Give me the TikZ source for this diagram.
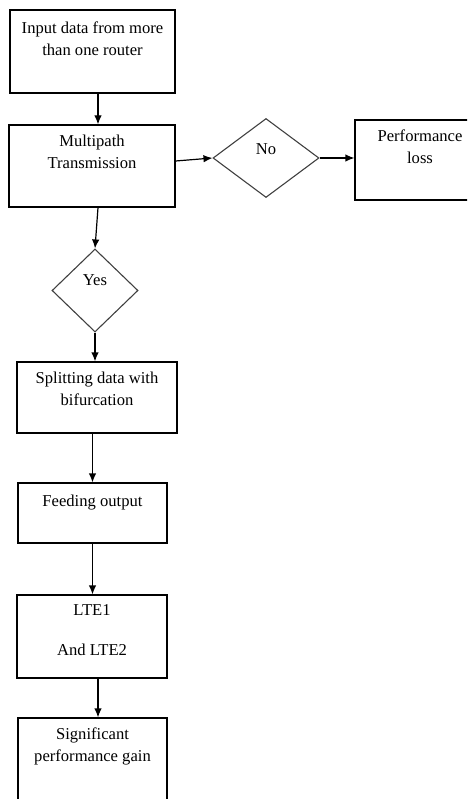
\documentclass[tikz,border=0pt]{standalone}
\usepackage{fontspec}
\setmainfont{Liberation Serif}
\usetikzlibrary{arrows.meta,shapes.geometric}
\begin{document}
\begin{tikzpicture}[x=1pt,y=-1pt,font=\fontsize{16.6}{22}\selectfont,
  box/.style={draw,line width=1.2pt,rectangle,inner sep=0pt},
  txt/.style={anchor=north,align=center,inner sep=0pt,yshift=-10pt},
  dec/.style={draw=black!75,line width=1.1pt,diamond,inner sep=0pt},
  arr/.style={line width=1.2pt,-{Latex[length=9pt,width=7.5pt]}}]
\useasboundingbox(0,0)rectangle(467,799);
\clip(0,0)rectangle(467,799);
\node[box,minimum width=165,minimum height=83,label={[txt,yshift=-2pt]north:Input data from more\\than one router}](in)at(92.5,51.5){};
\node[box,minimum width=166,minimum height=82,label={[txt]north:Multipath\\Transmission}](multi)at(92,166){};
\node[dec,minimum width=106,minimum height=79,label={[yshift=9pt]center:No}](no)at(266,158){};
\node[box,minimum width=130,minimum height=80,label={[txt]north:Performance\\loss}](loss)at(420,160){};
\node[dec,minimum width=86,minimum height=83,label={[yshift=10pt]center:Yes}](yes)at(95,290.5){};
\node[box,minimum width=160,minimum height=71,label={[txt]north:Splitting data with\\bifurcation}](split)at(97,397.5){};
\node[box,minimum width=149,minimum height=60,label={[txt,yshift=-2pt]north:Feeding output}](feed)at(92.5,513){};
\node[box,minimum width=150,minimum height=83,label={[txt]north:LTE1\\[18pt]And LTE2}](lte)at(92,636.5){};
\node[box,minimum width=149,minimum height=102,label={[txt]north:Significant\\performance gain}](gain)at(92.5,769){};
\draw[arr]([xshift=5.5pt]in.south)--([xshift=5.5pt]in.south|-multi.north);
\draw[arr]([yshift=5pt]multi.east)--(no.west);
\draw[arr](no.east)--(no.east-|loss.west);
\draw[arr]([xshift=6pt]multi.south)--(yes.north);
\draw[arr](yes.south)--(yes.south|-split.north);
\draw[arr](feed.north|-split.south)--(feed.north);
\draw[arr](feed.south)--(feed.south|-lte.north);
\draw[arr]([xshift=6pt]lte.south)--([xshift=6pt]lte.south|-gain.north);
\end{tikzpicture}
\end{document}
